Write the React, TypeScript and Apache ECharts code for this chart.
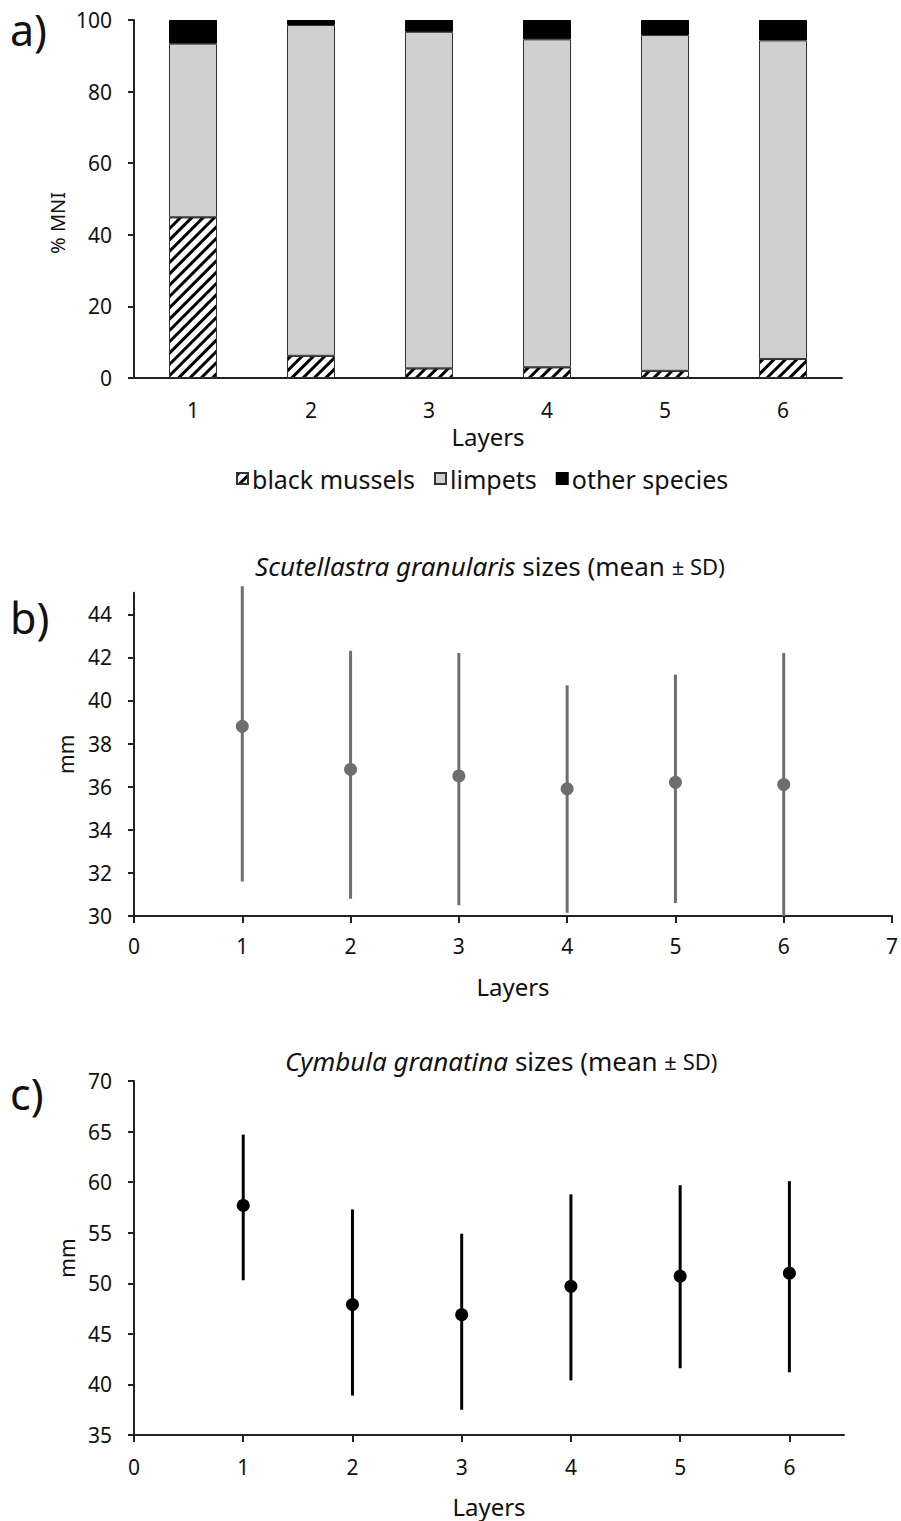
import React, { useEffect, useRef } from "react";
import * as echarts from "echarts";

const layers = [1, 2, 3, 4, 5, 6];
const layerLabels = ["1", "2", "3", "4", "5", "6"];

// panel a: % MNI
const blackMussels = [44.9, 6.2, 2.7, 3.0, 2.0, 5.3];
const limpets = [48.5, 92.4, 94.0, 91.6, 93.8, 89.0];
const otherSpecies = [6.6, 1.4, 3.3, 5.4, 4.2, 5.7];

// panel b: Scutellastra granularis sizes
const scutMean = [38.8, 36.8, 36.5, 35.9, 36.2, 36.1];
const scutLow = [31.6, 30.8, 30.5, 30.15, 30.6, 30.0];
const scutHigh = [45.3, 42.3, 42.2, 40.7, 41.2, 42.2];

// panel c: Cymbula granatina sizes
const cymbMean = [57.7, 47.9, 46.9, 49.7, 50.7, 51.0];
const cymbLow = [50.3, 38.9, 37.5, 40.4, 41.6, 41.2];
const cymbHigh = [64.7, 57.3, 54.9, 58.8, 59.7, 60.1];

const bTicks = [30, 32, 34, 36, 38, 40, 42, 44];
const cXTicks = [0, 1, 2, 3, 4, 5, 6];

const FONT = "Noto Sans";
const TXT = "#111";
const AXIS = "#222";

function errRender(color: string) {
  return (params: any, api: any) => {
    const x = api.value(0);
    const lo = api.coord([x, api.value(1)]);
    const hi = api.coord([x, api.value(2)]);
    return {
      type: "line",
      shape: { x1: lo[0], y1: lo[1], x2: hi[0], y2: hi[1] },
      style: { stroke: color, lineWidth: 3 },
    };
  };
}

export default function App() {
  const ref = useRef<HTMLDivElement>(null);
  useEffect(() => {
    document.body.style.margin = "0";
    const chart = echarts.init(ref.current!, null, { renderer: "svg" });
    const axisLine = { show: true, lineStyle: { color: AXIS, width: 2 } };
    const tick = { show: true, length: 6, lineStyle: { color: AXIS, width: 2 } };
    const lbl = { color: TXT, fontSize: 21, fontFamily: FONT };
    const nameStyle = { color: TXT, fontSize: 24, fontFamily: FONT };
    const rich = {
      i: { fontSize: 26, fontStyle: "italic", fontWeight: "normal", color: TXT, fontFamily: FONT },
      n: { fontSize: 26, fontWeight: "normal", color: TXT, fontFamily: FONT },
      s: { fontSize: 22, fontWeight: "normal", color: TXT, fontFamily: FONT },
    };
    const panelLabel = (text: string, y: number) => ({
      type: "text",
      x: 10,
      y,
      style: { text, fontSize: 43, fill: TXT, fontFamily: FONT, verticalAlign: "middle", align: "left" },
    });
    const option: any = {
      animation: false,
      textStyle: { fontFamily: FONT },
      title: [
        {
          text: "{i|Scutellastra granularis}{n| sizes (mean }{s|± SD)}",
          left: 250,
          top: 548,
          textStyle: { fontWeight: "normal", rich },
        },
        {
          text: "{i|Cymbula granatina}{n| sizes (mean }{s|± SD)}",
          left: 280,
          top: 1043,
          textStyle: { fontWeight: "normal", rich },
        },
      ],
      legend: {
        data: ["black mussels", "limpets", "other species"],
        left: 236,
        top: 466,
        padding: 0,
        icon: "rect",
        itemWidth: 11,
        itemHeight: 11,
        itemGap: 19,
        textStyle: { fontSize: 25, color: TXT, fontFamily: FONT, padding: [0, 0, 0, -1] },
      },
      graphic: [
        panelLabel("a)", 29),
        panelLabel("b)", 617),
        panelLabel("c)", 1093),
        {
          type: "text",
          left: 47,
          top: 192,
          style: { text: "% MNI", fontSize: 20, fill: TXT, fontFamily: FONT },
          rotation: Math.PI / 2,
          originX: 0,
          originY: 0,
        },
      ],
      grid: [
        { left: 134, right: 59, top: 20, height: 358 },
        { left: 134, right: 4, top: 592.7, height: 323.3 },
        { left: 134, right: 57, top: 1081, height: 354 },
      ],
      xAxis: [
        {
          gridIndex: 0,
          type: "category",
          data: layerLabels,
          axisLine,
          axisTick: { show: false },
          axisLabel: { ...lbl, margin: 21 },
          name: "Layers",
          nameLocation: "middle",
          nameGap: 46,
          nameTextStyle: nameStyle,
        },
        {
          gridIndex: 1,
          type: "value",
          min: 0,
          max: 7,
          interval: 1,
          splitLine: { show: false },
          axisLine,
          axisTick: { ...tick, length: 7 },
          axisLabel: { ...lbl, margin: 19 },
          name: "Layers",
          nameLocation: "middle",
          nameGap: 58,
          nameTextStyle: nameStyle,
        },
        {
          gridIndex: 2,
          type: "value",
          min: 0,
          max: 6.5,
          splitLine: { show: false },
          axisLine,
          axisTick: { ...tick, length: 7, customValues: cXTicks },
          axisLabel: { ...lbl, margin: 21, customValues: cXTicks },
          name: "Layers",
          nameLocation: "middle",
          nameGap: 59,
          nameTextStyle: nameStyle,
        },
      ],
      yAxis: [
        {
          gridIndex: 0,
          type: "value",
          min: 0,
          max: 100,
          interval: 20,
          splitLine: { show: false },
          axisLine,
          axisTick: tick,
          axisLabel: { ...lbl, margin: 22 },
        },
        {
          gridIndex: 1,
          type: "value",
          min: 30,
          max: 45,
          splitLine: { show: false },
          axisLine,
          axisTick: { ...tick, customValues: bTicks },
          axisLabel: { ...lbl, margin: 22, customValues: bTicks },
          name: "mm",
          nameLocation: "middle",
          nameGap: 58,
          nameRotate: 90,
          nameTextStyle: { ...nameStyle, fontSize: 21 },
        },
        {
          gridIndex: 2,
          type: "value",
          min: 35,
          max: 70,
          interval: 5,
          splitLine: { show: false },
          axisLine,
          axisTick: tick,
          axisLabel: { ...lbl, margin: 22 },
          name: "mm",
          nameLocation: "middle",
          nameGap: 56,
          nameRotate: 90,
          nameTextStyle: { ...nameStyle, fontSize: 21 },
        },
      ],
      series: [
        {
          name: "black mussels",
          type: "bar",
          stack: "a",
          xAxisIndex: 0,
          yAxisIndex: 0,
          barWidth: 48,
          data: blackMussels,
          itemStyle: {
            color: "#ffffff",
            borderColor: "#333",
            borderWidth: 1,
            decal: {
              symbol: "rect",
              symbolSize: 1,
              color: "#000",
              dashArrayX: [1, 0],
              dashArrayY: [3, 5],
              rotation: -Math.PI / 4,
            },
          },
        },
        {
          name: "limpets",
          type: "bar",
          stack: "a",
          xAxisIndex: 0,
          yAxisIndex: 0,
          barWidth: 48,
          data: limpets,
          itemStyle: { color: "#d0d0d0", borderColor: "#333", borderWidth: 1 },
        },
        {
          name: "other species",
          type: "bar",
          stack: "a",
          xAxisIndex: 0,
          yAxisIndex: 0,
          barWidth: 48,
          data: otherSpecies,
          itemStyle: { color: "#000000", borderColor: "#000", borderWidth: 1 },
        },
        {
          type: "custom",
          xAxisIndex: 1,
          yAxisIndex: 1,
          renderItem: errRender("#6e6e6e"),
          data: layers.map((l, i) => [l, scutLow[i], scutHigh[i]]),
          encode: { x: 0, y: [1, 2] },
          z: 2,
        },
        {
          type: "scatter",
          xAxisIndex: 1,
          yAxisIndex: 1,
          symbolSize: 13,
          itemStyle: { color: "#6e6e6e", opacity: 1 },
          data: layers.map((l, i) => [l, scutMean[i]]),
          z: 3,
        },
        {
          type: "custom",
          xAxisIndex: 2,
          yAxisIndex: 2,
          renderItem: errRender("#000000"),
          data: layers.map((l, i) => [l, cymbLow[i], cymbHigh[i]]),
          encode: { x: 0, y: [1, 2] },
          z: 2,
        },
        {
          type: "scatter",
          xAxisIndex: 2,
          yAxisIndex: 2,
          symbolSize: 13,
          itemStyle: { color: "#000000", opacity: 1 },
          data: layers.map((l, i) => [l, cymbMean[i]]),
          z: 3,
        },
      ],
    };
    chart.setOption(option);
    return () => chart.dispose();
  }, []);
  return <div ref={ref} style={{ width: 901, height: 1521 }} />;
}
